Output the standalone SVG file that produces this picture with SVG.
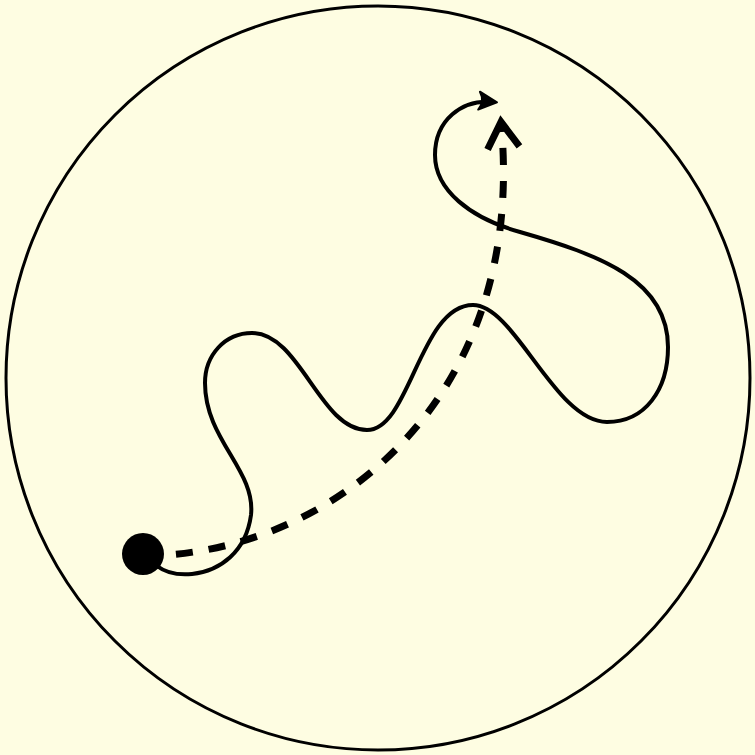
<svg xmlns="http://www.w3.org/2000/svg" width="755" height="755" viewBox="0 0 755 755">
  <style>
    .bg { fill: #FEFDE2; }
    .boundary { fill: none; stroke: #000; stroke-width: 3; }
    .walk { fill: none; stroke: #000; stroke-width: 4; stroke-linecap: round; stroke-linejoin: round; }
    .direct { fill: none; stroke: #000; stroke-width: 7; stroke-dasharray: 17 16; }
  </style>
  <defs>
    <marker id="arrowSolid" markerUnits="userSpaceOnUse" orient="auto" refX="0" refY="0" markerWidth="40" markerHeight="40" overflow="visible">
      <path d="M 4 0 L -14 -9 Q -8 0 -14 9 Z" fill="#000" stroke="#000" stroke-width="2" stroke-linejoin="round"/>
    </marker>
    <marker id="arrowOpen" markerUnits="userSpaceOnUse" orient="auto" refX="0" refY="0" markerWidth="60" markerHeight="60" overflow="visible">
      <path d="M -26 -16 L 0 0 L -26 16" fill="none" stroke="#000" stroke-width="7" stroke-linejoin="miter"/>
    </marker>
  </defs>
  <rect class="bg" x="0" y="0" width="755" height="755"/>
  <g id="boundary">
    <circle class="boundary" cx="378" cy="378" r="372"/>
  </g>
  <g id="connectors">
    <path id="random-walk" class="walk" marker-end="url(#arrowSolid)"
      d="M 157 566 Q 170 576 192 574 C 220 571 246 552 251 515 C 256 470 205 440 205 383 C 205 355 225 333 252 333 C 300 333 320 430 367 430 C 410 430 420 305 473 305 C 515 305 555 422 607 422 C 645 422 668 390 668 347 C 668 280 600 255 520 232 C 470 218 435 190 435 155 C 435 120 462 99 493 102"/>
    <path id="direct-path" class="direct" marker-end="url(#arrowOpen)"
      d="M 143 556 C 330 555 528 400 501 122"/>
  </g>
  <g id="start-dot">
    <circle cx="143" cy="554" r="21" fill="#000"/>
  </g>
</svg>
